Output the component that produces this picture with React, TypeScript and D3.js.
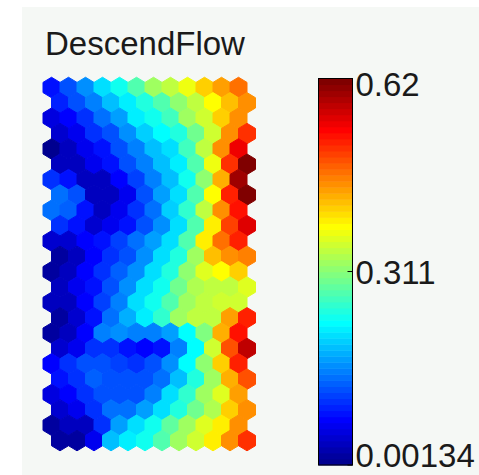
import React from 'react';
import * as d3 from 'd3';

// SOM component plane, 24 rows x 12 cols hexagonal map
const TITLE = 'DescendFlow';
const MAP_ROWS = 24;
const MAP_COLS = 12;

const DESCEND_FLOW: number[][] = [
  [0.088, 0.125, 0.162, 0.205, 0.243, 0.280, 0.323, 0.348, 0.373, 0.410, 0.441, 0.472],
  [0.094, 0.119, 0.156, 0.187, 0.218, 0.249, 0.280, 0.311, 0.342, 0.385, 0.422, 0.447],
  [0.051, 0.076, 0.106, 0.137, 0.175, 0.218, 0.236, 0.267, 0.323, 0.354, 0.410, 0.447],
  [0.045, 0.069, 0.100, 0.125, 0.162, 0.199, 0.224, 0.249, 0.292, 0.354, 0.453, 0.509],
  [0.00134, 0.032, 0.063, 0.088, 0.119, 0.156, 0.187, 0.212, 0.267, 0.348, 0.447, 0.546],
  [0.032, 0.038, 0.063, 0.082, 0.119, 0.156, 0.187, 0.218, 0.274, 0.373, 0.509, 0.620],
  [0.100, 0.088, 0.038, 0.038, 0.076, 0.113, 0.156, 0.193, 0.236, 0.311, 0.428, 0.595],
  [0.144, 0.125, 0.038, 0.032, 0.069, 0.125, 0.168, 0.205, 0.280, 0.385, 0.521, 0.615],
  [0.137, 0.131, 0.088, 0.038, 0.063, 0.100, 0.144, 0.199, 0.261, 0.342, 0.447, 0.533],
  [0.106, 0.082, 0.045, 0.063, 0.088, 0.119, 0.162, 0.205, 0.280, 0.397, 0.496, 0.558],
  [0.045, 0.045, 0.076, 0.088, 0.113, 0.137, 0.175, 0.212, 0.280, 0.397, 0.472, 0.515],
  [0.020, 0.038, 0.076, 0.106, 0.125, 0.162, 0.205, 0.249, 0.329, 0.422, 0.453, 0.465],
  [0.014, 0.038, 0.076, 0.106, 0.131, 0.162, 0.205, 0.249, 0.311, 0.366, 0.385, 0.416],
  [0.032, 0.063, 0.088, 0.119, 0.162, 0.205, 0.236, 0.292, 0.335, 0.342, 0.348, 0.360],
  [0.032, 0.038, 0.076, 0.113, 0.156, 0.205, 0.236, 0.280, 0.329, 0.342, 0.354, 0.354],
  [0.020, 0.045, 0.088, 0.137, 0.181, 0.218, 0.261, 0.323, 0.342, 0.348, 0.441, 0.521],
  [0.020, 0.032, 0.076, 0.156, 0.162, 0.156, 0.150, 0.175, 0.230, 0.304, 0.428, 0.533],
  [0.045, 0.069, 0.106, 0.100, 0.088, 0.076, 0.088, 0.156, 0.230, 0.354, 0.490, 0.577],
  [0.076, 0.106, 0.119, 0.119, 0.113, 0.100, 0.119, 0.162, 0.230, 0.311, 0.416, 0.515],
  [0.082, 0.106, 0.131, 0.125, 0.119, 0.119, 0.144, 0.187, 0.249, 0.323, 0.428, 0.490],
  [0.057, 0.076, 0.106, 0.125, 0.125, 0.119, 0.156, 0.212, 0.261, 0.329, 0.366, 0.441],
  [0.045, 0.069, 0.100, 0.137, 0.144, 0.175, 0.212, 0.249, 0.292, 0.335, 0.416, 0.447],
  [0.020, 0.032, 0.038, 0.100, 0.168, 0.205, 0.236, 0.286, 0.329, 0.366, 0.391, 0.453],
  [0.020, 0.020, 0.063, 0.187, 0.218, 0.243, 0.280, 0.323, 0.354, 0.391, 0.453, 0.509],
];

const V_MIN = 0.00134;
const V_MAX = 0.62;
const TICK_VALUES = [0.00134, 0.311, 0.62];
const TICK_LABELS = ['0.00134', '0.311', '0.62'];

// MATLAB jet(m)
function jet(m: number): string[] {
  const n = Math.ceil(m / 4);
  const u: number[] = [];
  for (let i = 1; i <= n; i++) u.push(i / n);
  for (let i = 1; i < n; i++) u.push(1);
  for (let i = n; i >= 1; i--) u.push(i / n);
  const g0 = Math.ceil(n / 2) - (m % 4 === 1 ? 1 : 0);
  const J = d3.range(m).map(() => [0, 0, 0]);
  u.forEach((val, k) => {
    const g = g0 + k + 1;
    const r = g + n;
    const b = g - n;
    if (g >= 1 && g <= m) J[g - 1][1] = val;
    if (r >= 1 && r <= m) J[r - 1][0] = val;
    if (b >= 1 && b <= m) J[b - 1][2] = val;
  });
  return J.map(([r, g, b]) => d3.rgb(r * 255, g * 255, b * 255).formatHex());
}

const JET = jet(64);

function hexPath(cx: number, cy: number, hw: number, a: number) {
  return `M${cx},${cy - a}L${cx + hw},${cy - a / 2}L${cx + hw},${cy + a / 2}L${cx},${cy + a}L${cx - hw},${cy + a / 2}L${cx - hw},${cy - a / 2}Z`;
}

export default function App() {
  const W = 479;
  const H = 475;

  const x = d3.scaleLinear().domain([0, MAP_COLS + 0.5]).range([43, 255.5]);
  const y = d3.scaleLinear().domain([0, MAP_ROWS - 1]).range([87.5, 440.6]);
  const hw = (x(1) - x(0)) / 2;
  const a = (y(1) - y(0)) / 1.5;

  const color = d3.scaleQuantize<string>().domain([V_MIN, V_MAX]).range(JET);

  const barY = d3.scaleLinear().domain([V_MIN, V_MAX]).range([465, 78.5]);
  const barX0 = 318.5;
  const barW = 34;
  const step = (V_MAX - V_MIN) / JET.length;

  const font = '"Liberation Sans", Arial, sans-serif';

  return (
    <svg width={W} height={H} style={{ position: 'absolute', left: 0, top: 0 }}>
      <rect x={0} y={0} width={W} height={H} fill="#ffffff" />
      <rect x={22} y={7} width={W - 22} height={H - 7} fill="#f5f8f5" />

      <text x={45} y={55} fontFamily={font} fontSize={33} fill="#1a1a1a">{TITLE}</text>

      <g>
        {DESCEND_FLOW.map((row, r) =>
          row.map((v, c) => {
            const cx = x(c + 0.5 + (r % 2) * 0.5);
            const cy = y(r);
            const col = color(v);
            return <path key={`${r}-${c}`} d={hexPath(cx, cy, hw, a)} fill={col} stroke={col} strokeWidth={1} strokeLinejoin="round" />;
          })
        )}
      </g>

      <g>
        {JET.map((col, i) => {
          const y0 = barY(V_MIN + (i + 1) * step);
          const y1 = barY(V_MIN + i * step);
          return <rect key={i} x={barX0} y={y0} width={barW} height={y1 - y0 + 0.5} fill={col} />;
        })}
        <rect x={barX0} y={barY(V_MAX)} width={barW} height={barY(V_MIN) - barY(V_MAX)} fill="none" stroke="#000" strokeWidth={1} />
        {TICK_VALUES.map((t, i) => (
          <g key={i}>
            <line x1={barX0 + barW - 5} x2={barX0 + barW} y1={barY(t)} y2={barY(t)} stroke="#000" strokeWidth={1} />
            <text x={barX0 + barW + 3} y={Math.min(Math.max(barY(t) + 12, 96), 467)} fontFamily={font} fontSize={33} fill="#1a1a1a">
              {TICK_LABELS[i]}
            </text>
          </g>
        ))}
      </g>
    </svg>
  );
}
